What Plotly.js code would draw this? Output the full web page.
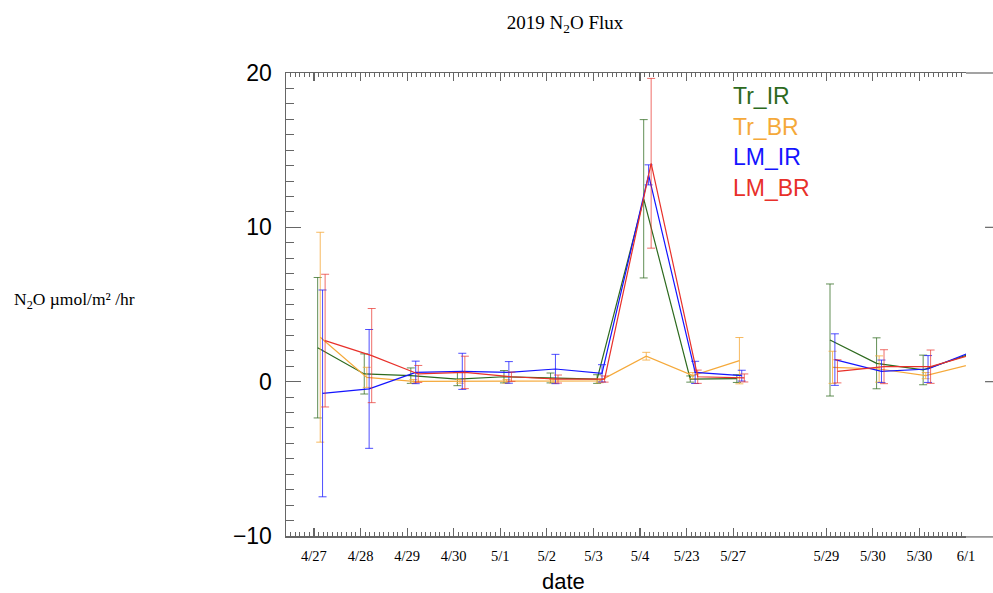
<!DOCTYPE html>
<html>
<head>
<meta charset="utf-8">
<script src="https://cdn.plot.ly/plotly-3.0.1.min.js"></script>
<style>html,body{margin:0;padding:0;background:#fff}#chart{width:993px;height:593px}</style>
</head>
<body>
<div id="chart"></div>
<script>
const categories = ['4/27','4/28','4/29','4/30','5/1','5/2','5/3','5/4','5/23','5/27','','5/29','5/30','5/30','6/1'];

const trIR    = [2.2, 0.5, 0.39, 0.17, 0.32, 0.24, 0.17, 11.85, 0.17, 0.2, null, 2.7, 1.19, 0.76, 1.78];
const trIRerr = [4.55, 1.3, 0.5, 0.43, 0.4, 0.32, 0.28, 5.13, 0.2, 0.25, null, 3.63, 1.65, 0.96, 0];
const trBR    = [2.88, 0.28, 0.02, 0.02, 0.02, 0.03, 0.05, 1.65, 0.39, 1.36, null, 0.93, 0.82, 0.39, 1.14];
const trBRerr = [6.8, 0.65, 0.12, 0.12, 0.12, 0.12, 0.12, 0.25, 0.2, 1.5, null, 1.04, 0.85, 0.2, 0];
const lmIR    = [-0.76, -0.47, 0.6, 0.67, 0.6, 0.82, 0.54, 13.4, 0.6, 0.39, null, 1.43, 0.67, 0.82, 2.0];
const lmIRerr = [6.7, 3.85, 0.73, 1.17, 0.7, 0.95, 0.56, 0.65, 0.72, 0.35, null, 1.67, 0.73, 0.87, 0];
const lmBR    = [2.66, 1.69, 0.5, 0.6, 0.32, 0.17, 0.17, 14.15, 0.32, 0.24, null, 0.67, 0.97, 0.97, 1.84];
const lmBRerr = [4.3, 3.05, 0.55, 1.05, 0.3, 0.26, 0.2, 5.5, 0.43, 0.26, null, 0.75, 1.1, 1.08, 0];

const seriesNames = ['Tr_IR','Tr_BR','LM_IR','LM_BR'];
const colors = ['#2d6a1e','#f5a93a','#1414ff','#e8302a'];
const errColors = ['rgba(45,106,30,0.75)','rgba(245,169,58,0.8)','rgba(20,20,255,0.75)','rgba(232,48,42,0.7)'];
const offsets = [0.08, 0.135, 0.185, 0.24];
const values = [trIR, trBR, lmIR, lmBR];
const errors = [trIRerr, trBRerr, lmIRerr, lmBRerr];

const idx = categories.map((c, i) => i);
const labelled = idx.filter(i => categories[i] !== '');
const traces = values.map((v, k) => ({
  type: 'scatter', mode: 'lines', name: seriesNames[k],
  x: idx.map(i => i + offsets[k]), y: v,
  line: {color: colors[k], width: 1.2},
  connectgaps: false,
  error_y: {type: 'data', array: errors[k], visible: true, thickness: 1, width: 4, color: errColors[k]},
  showlegend: false
}));

const legendY = [0.950, 0.883, 0.818, 0.752];
const annotations = seriesNames.map((n, k) => ({
  text: n, xref: 'paper', yref: 'paper', x: 0.655, y: legendY[k],
  xanchor: 'left', yanchor: 'middle', showarrow: false,
  font: {family: 'Liberation Sans, Arial, sans-serif', size: 23, color: colors[k]}
}));
annotations.push({
  text: 'date', xref: 'paper', yref: 'paper', x: (563-286)/680, y: -(581-536)/463,
  xanchor: 'center', yanchor: 'middle', showarrow: false,
  font: {family: 'Liberation Sans, Arial, sans-serif', size: 22, color: '#000'}
});
annotations.push({
  text: 'N<sub>2</sub>O µmol/m² /hr', xref: 'paper', yref: 'paper', x: -286/680 + 12/680, y: (536-300)/463,
  xanchor: 'left', yanchor: 'middle', showarrow: false,
  font: {family: 'Liberation Serif, Times New Roman, serif', size: 17.5, color: '#000'}
});

const gray = '#666';
const shapes = [
  {type:'line', xref:'paper', yref:'paper', x0:1, x1:1.04, y0:1, y1:1, line:{color:gray, width:1.2}},
  {type:'line', xref:'paper', yref:'paper', x0:1, x1:1.04, y0:-0.002, y1:-0.002, line:{color:gray, width:1.2}},
  {type:'line', xref:'paper', yref:'y', x0:1.028, x1:1.04, y0:10, y1:10, line:{color:gray, width:1.2}},
  {type:'line', xref:'paper', yref:'y', x0:1.028, x1:1.04, y0:0, y1:0, line:{color:gray, width:1.2}}
];

const layout = {
  width: 993, height: 593,
  margin: {l: 286, r: 27, t: 73, b: 57},
  paper_bgcolor: '#fff', plot_bgcolor: '#fff',
  title: {text: '2019 N<sub>2</sub>O Flux', x: 565/993, xref: 'container', xanchor: 'center', y: 1 - 22/593, yanchor: 'middle',
    font: {family: 'Liberation Serif, Times New Roman, serif', size: 19, color: '#000'}},
  xaxis: {
    range: [-0.6, 14], tickmode: 'array', tickvals: labelled, ticktext: labelled.map(i => categories[i]),
    showline: true, linecolor: gray, linewidth: 1.5, mirror: 'ticks',
    ticks: 'inside', ticklen: 8, tickcolor: gray, tickwidth: 1.2,
    minor: {dtick: 0.1, tick0: 0, ticks: 'inside', ticklen: 4, tickcolor: gray, tickwidth: 1},
    showgrid: false, zeroline: false, ticklabelstandoff: 6,
    tickfont: {family: 'Liberation Serif, Times New Roman, serif', size: 14.5, color: '#000'}
  },
  yaxis: {
    range: [-10, 20], tickmode: 'linear', tick0: 0, dtick: 10,
    showline: true, linecolor: gray, linewidth: 1.5, mirror: false,
    ticks: 'inside', ticklen: 15, tickcolor: gray, tickwidth: 1.5,
    minor: {dtick: 1, tick0: 0, ticks: 'inside', ticklen: 8, tickcolor: gray, tickwidth: 1},
    showgrid: false, zeroline: false, ticklabelstandoff: 8,
    tickfont: {family: 'Liberation Sans, Arial, sans-serif', size: 23, color: '#000'}
  },
  annotations: annotations,
  shapes: shapes
};

Plotly.newPlot('chart', traces, layout, {displayModeBar: false, staticPlot: true});
</script>
</body>
</html>
